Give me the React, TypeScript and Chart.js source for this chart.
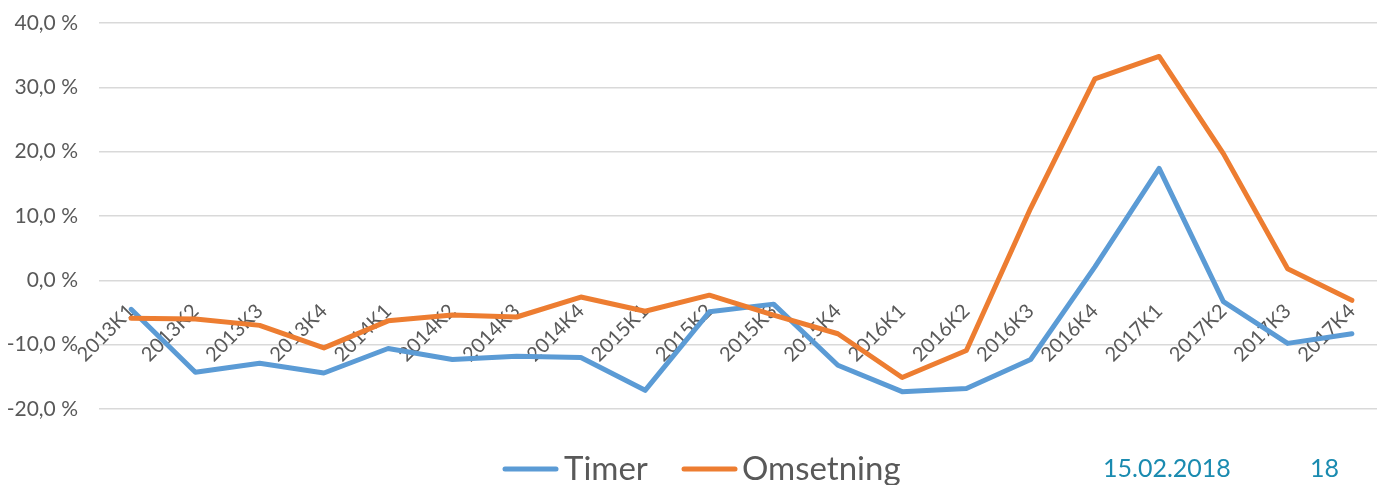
import React, { useEffect, useRef } from "react";
import { Chart, registerables } from "chart.js";

Chart.register(...registerables);

const categories = [
  "2013K1", "2013K2", "2013K3", "2013K4",
  "2014K1", "2014K2", "2014K3", "2014K4",
  "2015K1", "2015K2", "2015K3", "2015K4",
  "2016K1", "2016K2", "2016K3", "2016K4",
  "2017K1", "2017K2", "2017K3", "2017K4",
];

const timer = [
  -4.5, -14.3, -12.9, -14.4,
  -10.6, -12.3, -11.8, -12.0,
  -17.1, -4.9, -3.7, -13.2,
  -17.3, -16.8, -12.3, 2.1,
  17.4, -3.3, -9.8, -8.3,
];

const omsetning = [
  -5.9, -6.0, -7.0, -10.5,
  -6.3, -5.4, -5.7, -2.6,
  -4.8, -2.3, -5.4, -8.3,
  -15.1, -10.9, 11.2, 31.3,
  34.8, 19.7, 1.8, -3.1,
];

const seriesLabels = ["Timer", "Omsetning"];
const seriesColors = ["#5B9BD5", "#ED7D31"];
const yMin = -20;
const yMax = 40;
const yStep = 10;
const footerDate = "15.02.2018";
const footerPage = "18";

const TEXT = "#595959";
const GRID = "#D9D9D9";
const TEAL = "#1A8BB0";
const FONT = "Lato";

const footerPlugin = {
  id: "footer",
  afterDraw(chart: any) {
    const ctx = chart.ctx as CanvasRenderingContext2D;
    ctx.save();
    const items = [
      { lx0: 505, lx1: 556, tx: 564 },
      { lx0: 684, lx1: 735, tx: 742 },
    ];
    chart.data.datasets.forEach((ds: any, i: number) => {
      const it = items[i];
      ctx.beginPath();
      ctx.strokeStyle = ds.borderColor;
      ctx.lineWidth = 5;
      ctx.lineCap = "round";
      ctx.moveTo(it.lx0, 469);
      ctx.lineTo(it.lx1, 469);
      ctx.stroke();
      ctx.fillStyle = TEXT;
      ctx.font = `33px ${FONT}`;
      ctx.textBaseline = "alphabetic";
      ctx.textAlign = "left";
      ctx.fillText(ds.label, it.tx, 480);
    });
    ctx.fillStyle = TEAL;
    ctx.font = `25px ${FONT}`;
    ctx.fillText(footerDate, 1103, 477);
    ctx.fillText(footerPage, 1310, 477);
    ctx.restore();
  },
};

export default function App() {
  const ref = useRef<HTMLCanvasElement | null>(null);

  useEffect(() => {
    if (!ref.current) return;
    const chart = new Chart(ref.current, {
      type: "line",
      data: {
        labels: categories,
        datasets: [
          {
            label: seriesLabels[0],
            data: timer,
            borderColor: seriesColors[0],
            backgroundColor: seriesColors[0],
            borderWidth: 5,
            pointRadius: 0,
            tension: 0,
            borderCapStyle: "round",
            borderJoinStyle: "round",
            order: 1,
          },
          {
            label: seriesLabels[1],
            data: omsetning,
            borderColor: seriesColors[1],
            backgroundColor: seriesColors[1],
            borderWidth: 5,
            pointRadius: 0,
            tension: 0,
            borderCapStyle: "round",
            borderJoinStyle: "round",
            order: 0,
          },
        ],
      },
      options: {
        animation: false,
        responsive: false,
        devicePixelRatio: 1,
        layout: { padding: { top: 23, bottom: 76, left: 0, right: 1 } },
        plugins: {
          legend: { display: false },
          tooltip: { enabled: false },
        },
        scales: {
          x: {
            type: "category",
            offset: true,
            position: { y: 0 } as any,
            afterFit: (s: any) => {
              s.height = 0;
              s.paddingTop = 0;
              s.paddingBottom = 0;
              s.paddingLeft = 0;
              s.paddingRight = 0;
            },
            grid: { display: false, drawTicks: false },
            border: { display: false },
            ticks: {
              autoSkip: false,
              minRotation: 45,
              maxRotation: 45,
              padding: 19,
              color: TEXT,
              font: { family: FONT, size: 20 },
            },
          },
          y: {
            min: yMin,
            max: yMax,
            afterFit: (s: any) => {
              s.width = 99;
              s.paddingTop = 0;
              s.paddingBottom = 0;
            },
            grid: { color: GRID, lineWidth: 1.5, drawTicks: false },
            border: { display: false },
            ticks: {
              stepSize: yStep,
              padding: 21,
              color: TEXT,
              font: { family: FONT, size: 21 },
              callback: (v: any) => Number(v).toFixed(1).replace(".", ",") + " %",
            },
          },
        },
      },
      plugins: [footerPlugin],
    });
    return () => chart.destroy();
  }, []);

  return (
    <div
      style={{
        position: "fixed",
        left: 0,
        top: 0,
        width: 1385,
        height: 485,
        background: "#ffffff",
      }}
    >
      <canvas ref={ref} width={1385} height={485} style={{ width: 1385, height: 485 }} />
    </div>
  );
}
